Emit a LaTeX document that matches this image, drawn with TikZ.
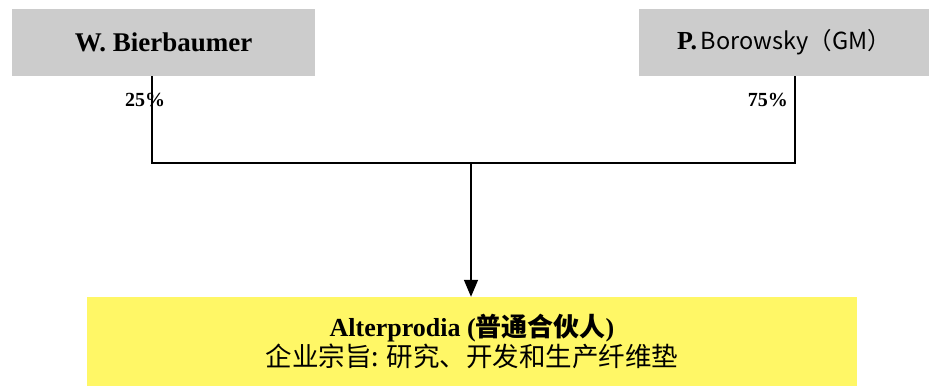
\documentclass[tikz,border=0pt]{standalone}
\usepackage{fontspec}
\setmainfont{Liberation Serif}
\newfontfamily\cjk{Noto Sans CJK SC}
\usetikzlibrary{positioning,arrows.meta}

\tikzset{
  ownerbox/.style={fill=gray!40, inner sep=0pt, minimum height=67pt},
  firmbox/.style={fill=yellow!60, inner sep=0pt, align=center, minimum width=770pt, minimum height=89pt},
  share/.style={font=\fontsize{20}{24}\selectfont\bfseries, inner sep=0pt},
  link/.style={line width=1.5pt}
}

\begin{document}
\begin{tikzpicture}[x=1pt, y=-1pt]
\useasboundingbox (0,0) rectangle (929,388);

% Owners
\node[ownerbox, minimum width=303pt, font=\fontsize{27}{30}\selectfont\bfseries] (wb) at (163.5,42.5) {W. Bierbaumer};
\node[ownerbox, minimum width=290pt, font=\fontsize{23.5}{30}\selectfont] (pb) at (784,42.5) {{\fontsize{26}{30}\selectfont\bfseries P.}\,{\cjk Borowsky（GM）}};

% Partnership
\node[firmbox] (ap) at (472,341.5) {{\fontsize{26}{34}\selectfont\bfseries Alterprodia ({\cjk 普通合伙人})}\\
  {\fontsize{26.5}{34}\selectfont\cjk 企业宗旨: 研究、开发和生产纤维垫}};

% Legs and junction
\coordinate (wbleg) at (152,76);
\coordinate (pbleg) at (795,76);
\coordinate (join) at (471,163);

% Shares
\node[share] (wbshare) at (145,100) {25\%};
\node[share, anchor=east] (pbshare) at (788,100) {75\%};

% Connectors
\draw[link] (wbleg) |- (join) -| (pbleg);
\draw[link, -{Triangle[length=17pt, width=14pt]}] (join) -- (join |- ap.north);

\end{tikzpicture}
\end{document}
